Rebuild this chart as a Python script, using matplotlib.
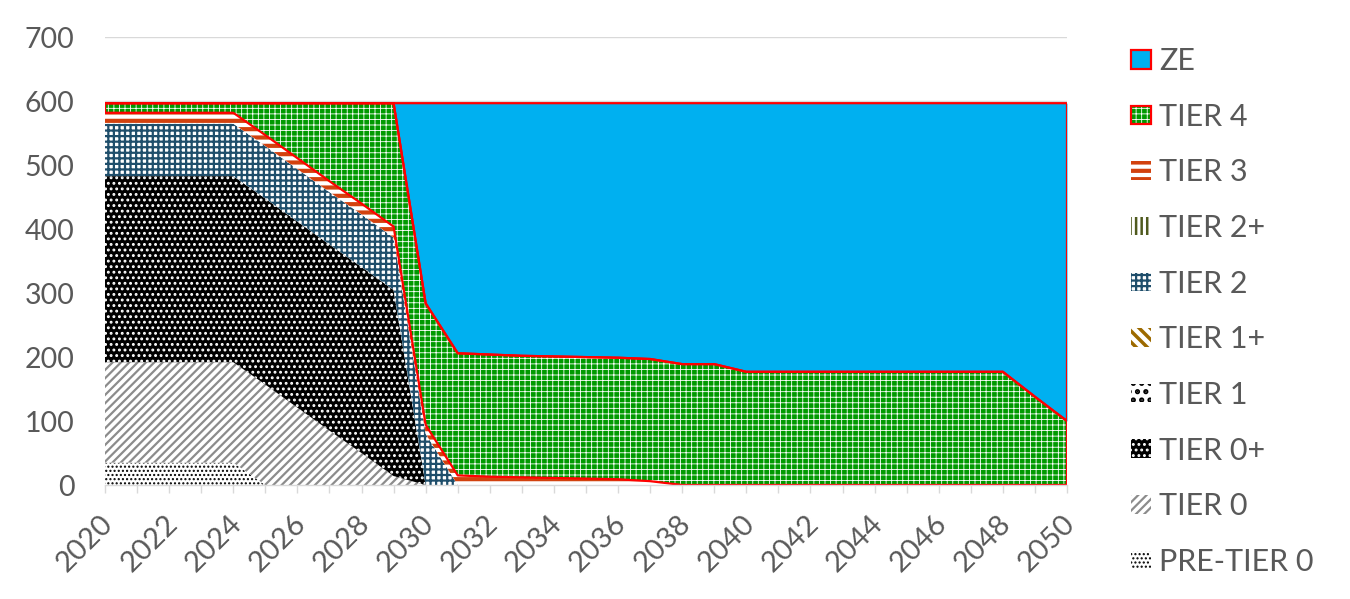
import numpy as np
import matplotlib
matplotlib.use("Agg")
import matplotlib.pyplot as plt
import matplotlib.transforms as mtransforms
from matplotlib.ticker import MultipleLocator, FuncFormatter
from matplotlib.patches import Patch
from matplotlib.legend_handler import HandlerTuple

plt.rcParams['font.family'] = ['Lato', 'DejaVu Sans']

# ---------------- data ----------------
years = list(range(2020, 2051))
pre_tier0 = [35] * 5 + [0] * 26
tier0 = [157] * 6 + [121, 85, 50, 14] + [0] * 21
tier0p = [291] * 10 + [0] * 21
tier1 = [0] * 31
tier1p = [0] * 31
tier2 = [82] * 10 + [80] + [0] * 20
tier2p = [0] * 31
tier3 = [17] * 10 + [14, 15, 13, 12, 11, 10, 9, 6] + [0] * 13
tier4 = ([15] * 5 + [50, 86, 122, 157, 193]
         + [190, 191, 191, 190, 190, 190, 190, 191, 189, 189]
         + [177] * 9 + [138, 100])
ze = ([0] * 10
      + [313, 391, 393, 395, 396, 397, 398, 400, 408, 408]
      + [420] * 9 + [459, 497])

labels = ["PRE-TIER 0", "TIER 0", "TIER 0+", "TIER 1", "TIER 1+",
          "TIER 2", "TIER 2+", "TIER 3", "TIER 4", "ZE"]
y_ticks = [0, 100, 200, 300, 400, 500, 600, 700]

# ---------------- styles ----------------
# (facecolor, hatch, hatch colour, hatch linewidth, red outline)
styles = [
    ("white",   "....",   "black",   1.0, False),  # PRE-TIER 0
    ("white",   "////",   "#8C8C8C", 1.6, False),  # TIER 0
    ("black",   "...",    "white",   1.3, False),  # TIER 0+
    ("white",   "..",     "black",   2.5, False),  # TIER 1
    ("white",   "\\\\\\", "#9C6A00", 2.5, False),  # TIER 1+
    ("white",   "+++",    "#1F4E6B", 1.6, False),  # TIER 2
    ("white",   "|||",    "#4F5A1E", 1.8, False),  # TIER 2+
    ("white",   "--",     "#D2410E", 3.0, False),  # TIER 3
    ("#009A00", "+++",    "white",   0.6, True),   # TIER 4
    ("#00B0F0", None,     None,      0.0, True),   # ZE
]


def set_hlw(artist, lw):
    try:
        artist.set_hatch_linewidth(lw)
    except Exception:
        pass
    artist._hatch_linewidth = lw
    orig = artist.draw

    def draw(renderer, *a, **k):
        with plt.rc_context({"hatch.linewidth": lw}):
            return orig(renderer, *a, **k)
    artist.draw = draw


W, H = 1350, 599
fig = plt.figure(figsize=(W / 100, H / 100), dpi=100)
ax = fig.add_axes([105 / W, 1 - 485 / H, (1067 - 105) / W, (485 - 37.3) / H])

series = [pre_tier0, tier0, tier0p, tier1, tier1p, tier2, tier2p, tier3, tier4, ze]
polys = ax.stackplot(years, *series, zorder=2)
cum = np.cumsum(np.array(series, dtype=float), axis=0)

handles = []
for i, (p, (fc, hatch, hc, hlw, red)) in enumerate(zip(polys, styles)):
    p.set_facecolor(fc)
    if hatch:
        p.set_hatch(hatch)
        p.set_edgecolor(hc)
        p.set_linewidth(0)
        set_hlw(p, hlw)
    else:
        p.set_edgecolor(fc)
        p.set_linewidth(0)
    h = Patch(facecolor=fc, edgecolor=(hc if hatch else fc), hatch=hatch, linewidth=0)
    if red:
        lower = cum[i - 1] if i > 0 else np.zeros(len(years))
        ax.fill_between(years, lower, cum[i], facecolor="none",
                        edgecolor="#FF0000", linewidth=1.6, zorder=3)
        h = (h, Patch(facecolor="none", edgecolor="#FF0000", linewidth=1.6))
    handles.append(h)

# ---------------- axes ----------------
ax.set_xlim(2020, 2050)
ax.set_ylim(0, 700)
ax.set_yticks(y_ticks)
ax.yaxis.grid(True, color="#D9D9D9", linewidth=1.0, zorder=0)
ax.set_axisbelow(True)
for s in ("top", "right", "left"):
    ax.spines[s].set_visible(False)
ax.spines["bottom"].set_color("#D9D9D9")
ax.spines["bottom"].set_linewidth(1.0)
ax.spines["bottom"].set_zorder(5)

ax.xaxis.set_major_locator(MultipleLocator(2))
ax.xaxis.set_minor_locator(MultipleLocator(1))
ax.xaxis.set_major_formatter(FuncFormatter(lambda v, pos: f"{int(round(v))}"))
ax.tick_params(axis="x", which="both", direction="out", length=6,
               color="#D9D9D9", width=1.0)
ax.tick_params(axis="x", which="major", labelsize=21, labelcolor="#595959", pad=12)
ax.tick_params(axis="y", length=0, labelsize=20.5, labelcolor="#595959", pad=22)
shift = mtransforms.ScaledTranslation(-5 / 100, 0, fig.dpi_scale_trans)
for lab in ax.get_xticklabels():
    lab.set_rotation(45)
    lab.set_ha("right")
    lab.set_va("top")
    lab.set_rotation_mode("anchor")
    lab.set_transform(lab.get_transform() + shift)

leg = fig.legend(handles[::-1], labels[::-1], loc="upper left",
                 bbox_to_anchor=(1131 / W, 1 - 47 / H),
                 bbox_transform=fig.transFigure,
                 handler_map={tuple: HandlerTuple(ndivide=1, pad=0)},
                 frameon=False, fontsize=22, labelcolor="#595959",
                 handlelength=0.65, handleheight=0.56, handletextpad=0.28,
                 labelspacing=0.905, borderpad=0, borderaxespad=0)

try:
    lh = leg.legend_handles
except AttributeError:
    lh = leg.legendHandles
lws = [s[3] for s in styles][::-1]
for a, lw in zip(lh, lws):
    if a is not None and lw > 0:
        set_hlw(a, lw)

fig.savefig("out.png", dpi=100)
